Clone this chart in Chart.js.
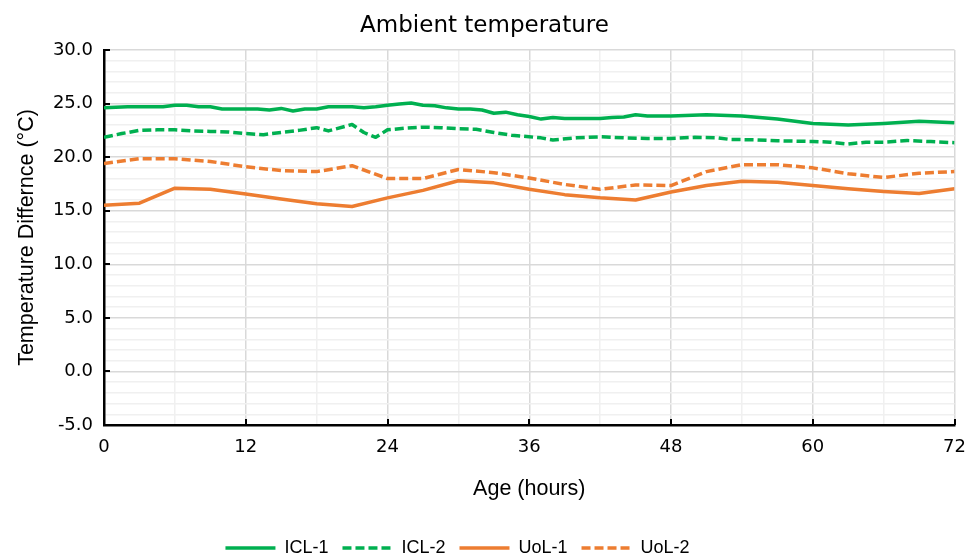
<!DOCTYPE html>
<html>
<head>
<meta charset="utf-8">
<script src="https://cdn.jsdelivr.net/npm/chart.js@4.4.1/dist/chart.umd.min.js"></script>
<style>
    html, body { margin: 0; padding: 0; background: #ffffff; }
    #wrap { width: 978px; height: 555px; position: relative; }
</style>
</head>
<body>
<div id="wrap"><canvas id="myChart"></canvas></div>
<script>
// ICL sensors were logged hourly for the first two days, then every 3 hours
const icl1Hours = [0, 1, 2, 3, 4, 5, 6, 7, 8, 9, 10, 11, 12, 13, 14, 15, 16, 17, 18, 19, 20, 21, 22, 23, 24,
    25, 26, 27, 28, 29, 30, 31, 32, 33, 34, 35, 36, 37, 38, 39, 40, 41, 42, 43, 44, 45, 46, 47, 48,
    51, 54, 57, 60, 63, 66, 69, 72];
const icl1 = [24.6, 24.65, 24.7, 24.7, 24.7, 24.7, 24.85, 24.85, 24.7, 24.7, 24.5, 24.5, 24.5, 24.5, 24.4, 24.55,
    24.3, 24.5, 24.5, 24.7, 24.7, 24.7, 24.6, 24.7, 24.85, 24.95, 25.05, 24.85, 24.8, 24.6, 24.5, 24.5, 24.4,
    24.1, 24.2, 23.95, 23.8, 23.55, 23.7, 23.6, 23.6, 23.6, 23.6, 23.7, 23.75, 23.95, 23.85, 23.85, 23.85,
    23.95, 23.85, 23.55, 23.15, 23.0, 23.15, 23.35, 23.2];

const icl2Hours = [0, 1.5, 3, 4.5, 6, 7.5, 9, 10.5, 12, 13.5, 15, 16.5, 18, 19, 21, 22, 23, 24, 25.5, 27,
    28.5, 30, 31.5, 33, 34.5, 36, 37, 38, 40, 42, 44, 46, 48, 50, 52, 53, 55, 57, 60, 61.5, 63, 64.5,
    66, 68, 70, 72];
const icl2 = [21.85, 22.2, 22.5, 22.55, 22.55, 22.45, 22.4, 22.35, 22.2, 22.1, 22.3, 22.5, 22.75, 22.45,
    23.05, 22.3, 21.85, 22.55, 22.7, 22.8, 22.75, 22.65, 22.6, 22.3, 22.05, 21.9, 21.8, 21.6, 21.8, 21.9,
    21.8, 21.75, 21.75, 21.85, 21.8, 21.65, 21.62, 21.53, 21.46, 21.4, 21.22, 21.4, 21.4, 21.55, 21.45, 21.35];

// UoL sensors, every 3 hours
const uolHours = [0, 3, 6, 9, 12, 15, 18, 21, 24, 27, 30, 33, 36, 39, 42, 45, 48, 51, 54, 57, 60, 63, 66, 69, 72];
const uol1 = [15.5, 15.7, 17.1, 17.0, 16.55, 16.1, 15.65, 15.4, 16.2, 16.9, 17.8, 17.6, 17.0, 16.5, 16.2,
    16.0, 16.75, 17.35, 17.75, 17.65, 17.35, 17.05, 16.8, 16.6, 17.05];
const uol2 = [19.4, 19.85, 19.85, 19.6, 19.1, 18.75, 18.65, 19.2, 18.0, 18.0, 18.85, 18.55, 18.05, 17.45,
    17.0, 17.4, 17.35, 18.65, 19.3, 19.3, 19.0, 18.45, 18.1, 18.5, 18.65];

const seriesNames = ["ICL-1", "ICL-2", "UoL-1", "UoL-2"];
const yMajorTicks = [-5, 0, 5, 10, 15, 20, 25, 30];
const xMajorTicks = [0, 12, 24, 36, 48, 60, 72];

const GREEN = "#00b050";
const ORANGE = "#ed7d31";
const DASH = [9, 4];

// Zip hours and values into {x, y} points
function toPoints(hours, values) {
    return hours.map((h, i) => ({ x: h, y: values[i] }));
}

function makeLine(label, hours, values, color, dashed) {
    return {
        label: label,
        data: toPoints(hours, values),
        borderColor: color,
        backgroundColor: color,
        borderWidth: 3.5,
        borderDash: dashed ? DASH : [],
        borderJoinStyle: "round",
        pointRadius: 0,
        tension: 0,
        fill: false
    };
}

// Excel style tick marks, pointing into the plot
const insideTicks = {
    id: "insideTicks",
    beforeDatasetsDraw(chart) {
        const ctx = chart.ctx;
        const area = chart.chartArea;
        const xs = chart.scales.x;
        const ys = chart.scales.y;
        ctx.save();
        ctx.strokeStyle = "#000000";
        ctx.lineWidth = 2;
        yMajorTicks.forEach((v) => {
            const py = Math.round(ys.getPixelForValue(v));
            ctx.beginPath();
            ctx.moveTo(area.left, py);
            ctx.lineTo(area.left + 6, py);
            ctx.stroke();
        });
        xMajorTicks.forEach((v) => {
            const px = Math.round(xs.getPixelForValue(v));
            ctx.beginPath();
            ctx.moveTo(px, area.bottom);
            ctx.lineTo(px, area.bottom - 6);
            ctx.stroke();
        });
        ctx.restore();
    }
};

// Nudge the legend row to sit lower and a bit left
const legendShift = {
    id: "legendShift",
    afterLayout(chart) {
        const lg = chart.legend;
        if (lg) {
            lg.left -= 27;
            lg.right -= 27;
            lg.top += 12;
            lg.bottom += 12;
        }
    }
};

window.onload = function() {
    const ctx = document.getElementById("myChart");

    const gridColor = (c) => {
        if (!c.tick) return "#f0f0f0";
        return (c.scale.axis === "y" ? c.tick.value % 5 === 0 : c.tick.value % 12 === 0) ? "#d9d9d9" : "#f0f0f0";
    };

    // Legend samples drawn as lines, dashed like their dataset
    const legendLabels = (chart) => {
        const items = Chart.defaults.plugins.legend.labels.generateLabels(chart);
        items.forEach((item) => {
            const ds = chart.data.datasets[item.datasetIndex];
            item.lineDash = ds.borderDash;
            item.lineWidth = ds.borderWidth;
            item.strokeStyle = ds.borderColor;
            item.pointStyle = "line";
        });
        return items;
    };

    const chart = new Chart(ctx, {
        type: "line",
        data: {
            datasets: [
                makeLine(seriesNames[0], icl1Hours, icl1, GREEN, false),
                makeLine(seriesNames[1], icl2Hours, icl2, GREEN, true),
                makeLine(seriesNames[2], uolHours, uol1, ORANGE, false),
                makeLine(seriesNames[3], uolHours, uol2, ORANGE, true)
            ]
        },
        options: {
            responsive: true,
            maintainAspectRatio: false,
            animation: false,
            layout: { padding: { left: 14, right: 23, top: 0, bottom: 0 } },
            plugins: {
                title: {
                    display: true,
                    text: "Ambient temperature",
                    color: "#000000",
                    font: { family: "DejaVu Sans", size: 23, weight: "normal" },
                    padding: { top: 12, bottom: 10.4 }
                },
                legend: {
                    display: true,
                    position: "bottom",
                    labels: {
                        usePointStyle: true,
                        pointStyle: "line",
                        pointStyleWidth: 50,
                        padding: 14,
                        color: "#000000",
                        font: { family: "Liberation Sans", size: 18 },
                        generateLabels: legendLabels
                    }
                },
                tooltip: { enabled: false }
            },
            scales: {
                x: {
                    type: "linear",
                    min: 0,
                    max: 72,
                    afterFit: (scale) => { scale.height = 88; },
                    ticks: {
                        stepSize: 6,
                        autoSkip: false,
                        maxRotation: 0,
                        padding: 12,
                        color: "#000000",
                        font: { family: "DejaVu Sans", size: 18 },
                        callback: (v) => (v % 12 === 0 ? String(v) : "")
                    },
                    grid: { color: gridColor, lineWidth: 1.5, drawTicks: false },
                    border: { color: "#000000", width: 2.5 },
                    title: {
                        display: true,
                        text: "Age (hours)",
                        color: "#000000",
                        font: { family: "Liberation Sans", size: 21.5 },
                        padding: { top: 0, bottom: 11 }
                    }
                },
                y: {
                    min: -5,
                    max: 30,
                    afterFit: (scale) => { scale.width = 90; },
                    ticks: {
                        stepSize: 1,
                        autoSkip: false,
                        padding: 11,
                        color: "#000000",
                        font: { family: "DejaVu Sans", size: 18 },
                        callback: (v) => (v % 5 === 0 ? v.toFixed(1) : "")
                    },
                    grid: { color: gridColor, lineWidth: 1.5, drawTicks: false },
                    border: { color: "#000000", width: 2.5 },
                    title: {
                        display: true,
                        text: "Temperature Differnce (°C)",
                        color: "#000000",
                        font: { family: "Liberation Sans", size: 21.5 },
                        padding: { top: 0, bottom: 0 }
                    }
                }
            }
        },
        plugins: [insideTicks, legendShift]
    });
};
</script>
</body>
</html>
